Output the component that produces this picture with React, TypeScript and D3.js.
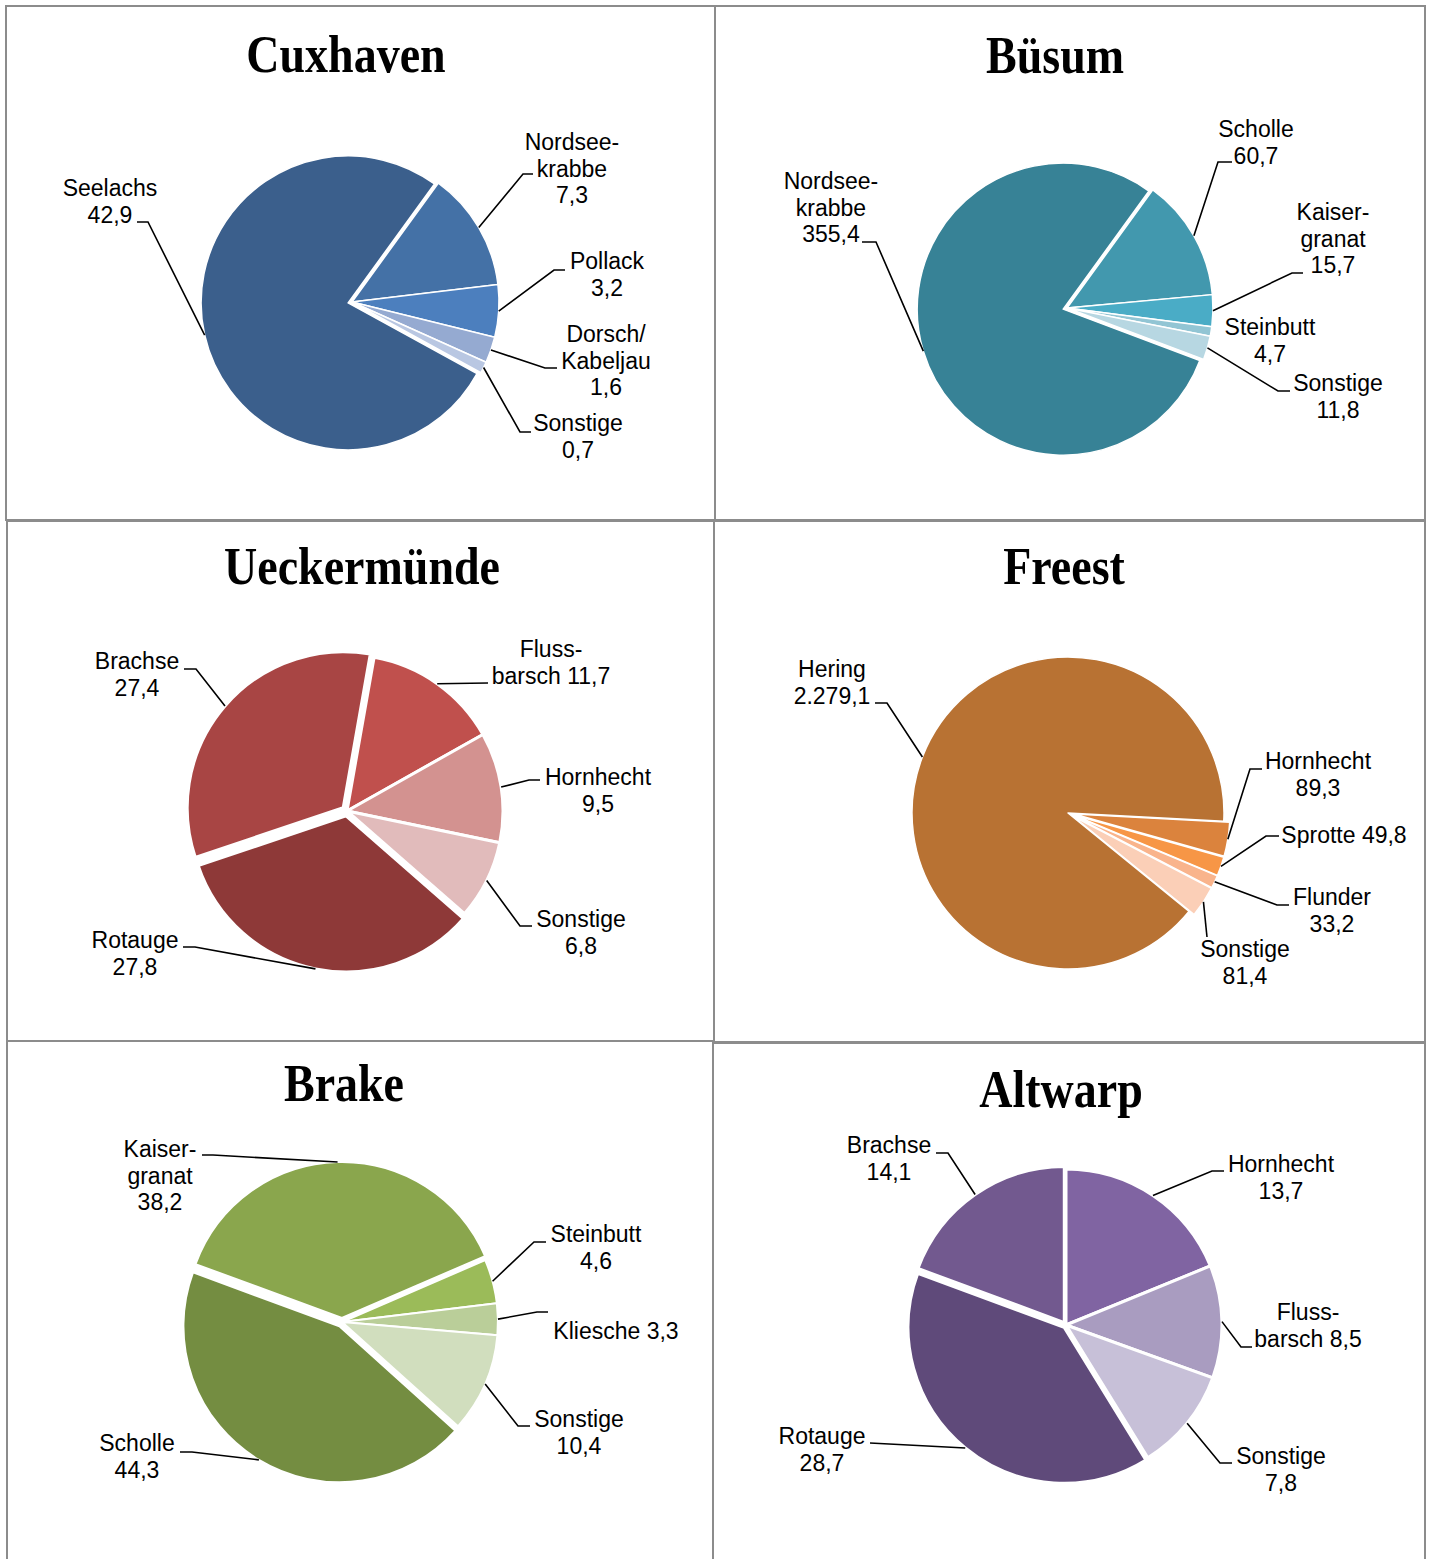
import React from "react"
import * as d3 from "d3"

// ---- data (Anlandungen, Werte wie im Original) ----
const cuxCategories = ["Nordsee-\nkrabbe", "Pollack", "Dorsch/\nKabeljau", "Sonstige", "Seelachs"]
const cuxValues = [7.3, 3.2, 1.6, 0.7, 42.9]

const buesumCategories = ["Scholle", "Kaiser-\ngranat", "Steinbutt", "Sonstige", "Nordsee-\nkrabbe"]
const buesumValues = [60.7, 15.7, 4.7, 11.8, 355.4]

const ueckCategories = ["Fluss-\nbarsch", "Hornhecht", "Sonstige", "Rotauge", "Brachse"]
const ueckValues = [11.7, 9.5, 6.8, 27.8, 27.4]

const freestCategories = ["Hornhecht", "Sprotte", "Flunder", "Sonstige", "Hering"]
const freestValues = [89.3, 49.8, 33.2, 81.4, 2279.1]

const brakeCategories = ["Kaiser-\ngranat", "Steinbutt", "Kliesche", "Sonstige", "Scholle"]
const brakeValues = [38.2, 4.6, 3.3, 10.4, 44.3]

const altwarpCategories = ["Hornhecht", "Fluss-\nbarsch", "Sonstige", "Rotauge", "Brachse"]
const altwarpValues = [13.7, 8.5, 7.8, 28.7, 14.1]

const fmt = d3.formatLocale({ decimal: ",", thousands: ".", grouping: [3], currency: ["", ""] }).format(",.1f")

// ---- layout ----
const panels = [
  { x: 6, y: 6, w: 709, h: 514 },
  { x: 715, y: 6, w: 710, h: 514 },
  { x: 7, y: 521, w: 707, h: 520 },
  { x: 714, y: 521, w: 711, h: 521 },
  { x: 7, y: 1041, w: 706, h: 530 },
  { x: 713, y: 1043, w: 712, h: 530 }
]

const charts = [
  {
    title: "Cuxhaven", tx: 346, ty: 72,
    categories: cuxCategories, values: cuxValues,
    cx: 352, cy: 302, r: 147, start: 36, stroke: 1.5,
    explode: [0, 0, 0, 0, 4],
    colors: ["#4471a6", "#4c7fbe", "#95aad1", "#b9c7e2", "#3b5f8c"],
    labels: [
      { x: 572, y: 150, pts: [[533, 174], [523, 174]] },
      { x: 607, y: 269, pts: [[565, 270], [554, 270]] },
      { x: 606, y: 342, pts: [[557, 368], [545, 368]] },
      { x: 578, y: 431, pts: [[531, 432], [520, 432]] },
      { x: 110, y: 196, pts: [[137, 222], [148, 222]] }
    ]
  },
  {
    title: "Büsum", tx: 1055, ty: 73,
    categories: buesumCategories, values: buesumValues,
    cx: 1067, cy: 308, r: 146, start: 36, stroke: 1.5,
    explode: [0, 0, 0, 0, 4],
    colors: ["#4298ae", "#4aacc6", "#92c5d4", "#b7d7e2", "#378296"],
    labels: [
      { x: 1256, y: 137, pts: [[1232, 162], [1218, 162]] },
      { x: 1333, y: 220, pts: [[1303, 273], [1292, 273]] },
      { x: 1270, y: 335, pts: null },
      { x: 1338, y: 391, pts: [[1290, 391], [1278, 391]] },
      { x: 831, y: 189, pts: [[862, 242], [876, 242]] }
    ]
  },
  {
    title: "Ueckermünde", tx: 362, ty: 584,
    categories: ueckCategories, values: ueckValues,
    cx: 347, cy: 811, r: 156, start: 10, stroke: 3,
    explode: [0, 0, 0, 5, 5],
    colors: ["#c0504d", "#d39290", "#e1bbbb", "#8e3938", "#a84544"],
    labels: [
      { x: 551, y: 657, pts: [[488, 683]], inline: true },
      { x: 598, y: 785, pts: [[540, 780], [529, 780]] },
      { x: 581, y: 927, pts: [[532, 926], [520, 926]] },
      { x: 135, y: 948, pts: [[183, 947], [195, 947]] },
      { x: 137, y: 669, pts: [[184, 669], [196, 669]] }
    ]
  },
  {
    title: "Freest", tx: 1064, ty: 584,
    categories: freestCategories, values: freestValues,
    cx: 1068, cy: 813, r: 156, start: 93, stroke: 1.5,
    explode: [6, 6, 6, 6, 0],
    colors: ["#db833d", "#f79646", "#f9b48c", "#fbcfb7", "#b87233"],
    labels: [
      { x: 1318, y: 769, pts: [[1262, 769], [1250, 769]] },
      { x: 1344, y: 843, pts: [[1279, 836], [1266, 836]], inline: true },
      { x: 1332, y: 905, pts: [[1289, 905], [1277, 905]] },
      { x: 1245, y: 957, pts: [[1207, 937]] },
      { x: 832, y: 677, pts: [[875, 703], [887, 703]] }
    ]
  },
  {
    title: "Brake", tx: 344, ty: 1101,
    categories: brakeCategories, values: brakeValues,
    cx: 342, cy: 1322, r: 156, start: -69.8, stroke: 2,
    explode: [4, 0, 0, 0, 5],
    colors: ["#8aa64d", "#9bbb59", "#bace99", "#d1debe", "#748d41"],
    labels: [
      { x: 160, y: 1157, pts: [[202, 1155], [213, 1155]] },
      { x: 596, y: 1242, pts: [[546, 1242], [534, 1242]] },
      { x: 616, y: 1339, pts: [[548, 1312], [537, 1312]], inline: true },
      { x: 579, y: 1427, pts: [[530, 1426], [518, 1426]] },
      { x: 137, y: 1451, pts: [[180, 1452], [192, 1452]] }
    ]
  },
  {
    title: "Altwarp", tx: 1061, ty: 1107,
    categories: altwarpCategories, values: altwarpValues,
    cx: 1066, cy: 1325, r: 156, start: 0, stroke: 3,
    explode: [0, 0, 0, 3, 3],
    colors: ["#8064a2", "#a99cc0", "#c7c0d8", "#5f4a7a", "#72598f"],
    labels: [
      { x: 1281, y: 1172, pts: [[1224, 1171], [1212, 1171]] },
      { x: 1308, y: 1320, pts: [[1252, 1347], [1241, 1347]], inline: true },
      { x: 1281, y: 1464, pts: [[1232, 1463], [1220, 1463]] },
      { x: 822, y: 1444, pts: [[870, 1443]] },
      { x: 889, y: 1153, pts: [[936, 1153], [948, 1153]] }
    ]
  }
]

const LABEL_FONT = "'Liberation Sans', Arial, sans-serif"
const LINE_H = 26.5

function Pie({ c }) {
  const a0 = (c.start * Math.PI) / 180
  const arcs = d3.pie<number>().sort(null).startAngle(a0).endAngle(a0 + 2 * Math.PI)(c.values)
  const arc = d3.arc<d3.PieArcDatum<number>>().innerRadius(0).outerRadius(c.r)
  const edge = d3.arc<d3.PieArcDatum<number>>().innerRadius(c.r).outerRadius(c.r)

  return (
    <g>
      {arcs.map((d, i) => {
        const mid = (d.startAngle + d.endAngle) / 2
        const e = c.explode[i]
        const ox = c.cx + e * Math.sin(mid)
        const oy = c.cy - e * Math.cos(mid)
        return (
          <path
            key={"s" + i}
            d={arc(d)}
            transform={`translate(${ox},${oy})`}
            fill={c.colors[i]}
            stroke="#fff"
            strokeWidth={c.stroke}
            strokeLinejoin="round"
          />
        )
      })}
      {arcs.map((d, i) => {
        const lb = c.labels[i]
        if (!lb.pts) return null
        const mid = (d.startAngle + d.endAngle) / 2
        const e = c.explode[i]
        const [px, py] = edge.centroid(d)
        const end = [c.cx + px + e * Math.sin(mid), c.cy + py - e * Math.cos(mid)]
        const line = d3.line()([...lb.pts, end] as [number, number][])
        return <path key={"l" + i} d={line} fill="none" stroke="#000" strokeWidth={1.6} />
      })}
      {arcs.map((d, i) => {
        const lb = c.labels[i]
        const parts = c.categories[i].split("\n")
        const lines = lb.inline
          ? [...parts.slice(0, -1), parts[parts.length - 1] + " " + fmt(d.data)]
          : [...parts, fmt(d.data)]
        return (
          <text
            key={"t" + i}
            x={lb.x}
            y={lb.y}
            textAnchor="middle"
            fontFamily={LABEL_FONT}
            fontSize={23}
            fill="#000"
          >
            {lines.map((s, k) => (
              <tspan key={k} x={lb.x} dy={k === 0 ? 0 : LINE_H}>
                {s}
              </tspan>
            ))}
          </text>
        )
      })}
      <text
        transform={`translate(${c.tx},${c.ty}) scale(1,1.15)`}
        textAnchor="middle"
        fontFamily="'Liberation Serif', 'Times New Roman', serif"
        fontWeight="bold"
        fontSize={46}
        fill="#000"
      >
        {c.title}
      </text>
    </g>
  )
}

export default function App() {
  return (
    <svg
      width={1432}
      height={1559}
      style={{ position: "absolute", left: 0, top: 0, background: "#fff" }}
    >
      <rect x={0} y={0} width={1432} height={1559} fill="#fff" />
      {panels.map((p, i) => (
        <rect key={i} x={p.x} y={p.y} width={p.w} height={p.h} fill="none" stroke="#8c8c8c" strokeWidth={2} />
      ))}
      {charts.map((c) => (
        <Pie key={c.title} c={c} />
      ))}
    </svg>
  )
}
